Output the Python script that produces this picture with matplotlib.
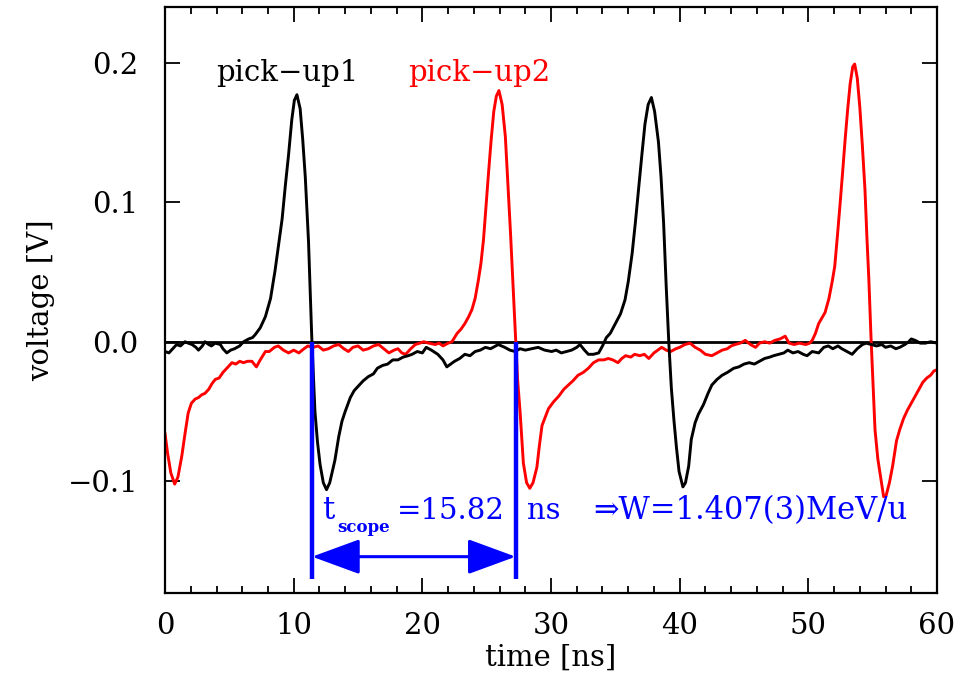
import matplotlib
matplotlib.use('Agg')
import matplotlib.pyplot as plt

plt.rcParams['font.family'] = ['DejaVu Serif', 'DejaVu Sans']
plt.rcParams['mathtext.fontset'] = 'dejavuserif'

# pick-up 1 (black)
t_pu1 = [0.0, 0.3, 0.5, 0.9, 1.2, 1.55, 1.8, 2.1, 2.4, 2.6,
         2.9, 3.1, 3.4, 3.6, 3.9, 4.3, 4.5, 4.8, 5.1, 5.4,
         5.8, 6.1, 6.5, 6.8, 7.0, 7.4, 7.8, 8.2, 8.55, 8.8,
         9.1, 9.35, 9.6, 9.85, 10.05, 10.25, 10.5, 10.7, 10.9, 11.15,
         11.4, 11.65, 11.85, 12.05, 12.3, 12.55, 12.8, 13.0, 13.2, 13.5,
         13.75, 14.0, 14.4, 14.7, 15.0, 15.4, 15.8, 16.2, 16.5, 16.9,
         17.3, 17.7, 18.1, 18.5, 18.9, 19.2, 19.6, 20.0, 20.3, 20.7,
         21.2, 21.6, 21.9, 22.2, 22.5, 22.9, 23.3, 23.7, 24.1, 24.5,
         24.9, 25.3, 25.9, 26.4, 26.8, 27.2, 27.6, 28.0, 28.5, 29.0,
         29.5, 30.05, 30.4, 30.8, 31.2, 31.6, 32.0, 32.25, 32.6, 32.9,
         33.3, 33.7, 34.0, 34.3, 34.6, 35.0, 35.4, 35.75, 36.0, 36.3,
         36.55, 36.8, 37.05, 37.3, 37.55, 37.8, 38.05, 38.35, 38.55, 38.75,
         38.95, 39.15, 39.35, 39.55, 39.75, 39.95, 40.25, 40.45, 40.7, 40.9,
         41.2, 41.45, 41.85, 42.2, 42.5, 42.9, 43.3, 43.7, 44.2, 44.6,
         45.0, 45.4, 45.8, 46.2, 46.6, 47.0, 47.3, 47.7, 48.1, 48.4,
         48.8, 49.2, 49.6, 49.9, 50.3, 50.8, 51.2, 51.55, 51.9, 52.3,
         52.6, 53.0, 53.4, 53.8, 54.2, 54.5, 54.9, 55.3, 55.7, 56.0,
         56.4, 56.8, 57.1, 57.5, 57.8, 58.0, 58.3, 58.7, 59.1, 59.5,
         60.0]
v_pu1 = [-0.007, -0.008, -0.006, -0.002, -0.003, 0.000, -0.001, -0.002, -0.004, -0.006,
         -0.003, 0.000, -0.002, -0.003, -0.001, -0.002, -0.005, -0.008, -0.006, -0.005,
         -0.003, 0.000, 0.002, 0.003, 0.005, 0.010, 0.018, 0.031, 0.051, 0.068,
         0.088, 0.112, 0.134, 0.159, 0.173, 0.177, 0.167, 0.145, 0.118, 0.072,
         0.004, -0.050, -0.072, -0.088, -0.101, -0.106, -0.101, -0.093, -0.085, -0.068,
         -0.057, -0.050, -0.040, -0.035, -0.032, -0.028, -0.025, -0.023, -0.019, -0.017,
         -0.016, -0.013, -0.013, -0.011, -0.010, -0.009, -0.007, -0.008, -0.004, -0.006,
         -0.009, -0.013, -0.018, -0.016, -0.014, -0.012, -0.009, -0.010, -0.007, -0.006,
         -0.004, -0.005, -0.002, -0.004, -0.006, -0.007, -0.005, -0.006, -0.005, -0.004,
         -0.006, -0.007, -0.006, -0.008, -0.007, -0.006, -0.004, -0.002, -0.006, -0.009,
         -0.009, -0.008, -0.003, 0.003, 0.006, 0.013, 0.020, 0.030, 0.043, 0.063,
         0.085, 0.109, 0.133, 0.156, 0.170, 0.175, 0.165, 0.143, 0.118, 0.085,
         0.040, 0.000, -0.033, -0.056, -0.076, -0.093, -0.104, -0.101, -0.089, -0.070,
         -0.058, -0.052, -0.045, -0.037, -0.031, -0.027, -0.024, -0.022, -0.019, -0.018,
         -0.016, -0.015, -0.016, -0.014, -0.012, -0.011, -0.010, -0.009, -0.008, -0.006,
         -0.008, -0.007, -0.009, -0.010, -0.007, -0.008, -0.004, -0.003, -0.005, -0.003,
         -0.005, -0.007, -0.009, -0.005, -0.002, -0.001, -0.002, -0.003, -0.002, -0.004,
         -0.003, -0.005, -0.004, -0.002, 0.000, 0.002, 0.001, -0.001, -0.001, 0.000,
         -0.001]

# pick-up 2 (red)
t_pu2 = [0.0, 0.2, 0.45, 0.75, 1.0, 1.3, 1.55, 1.8, 2.05, 2.35,
         2.6, 2.85, 3.1, 3.4, 3.65, 3.9, 4.2, 4.5, 4.8, 5.2,
         5.5, 5.8, 6.1, 6.4, 6.75, 7.1, 7.4, 7.8, 8.1, 8.5,
         8.8, 9.2, 9.6, 10.0, 10.4, 10.8, 11.1, 11.5, 11.9, 12.3,
         12.7, 13.1, 13.5, 13.9, 14.25, 14.6, 15.0, 15.4, 15.8, 16.2,
         16.6, 17.0, 17.4, 17.8, 18.1, 18.4, 18.7, 19.1, 19.45, 19.8,
         20.1, 20.5, 21.0, 21.3, 21.6, 22.0, 22.3, 22.7, 23.0, 23.3,
         23.6, 23.85, 24.1, 24.35, 24.55, 24.75, 24.95, 25.15, 25.35, 25.55,
         25.75, 25.95, 26.2, 26.45, 26.65, 26.85, 27.05, 27.25, 27.4, 27.6,
         27.85, 28.1, 28.35, 28.6, 28.9, 29.1, 29.3, 29.55, 29.8, 30.2,
         30.6, 31.0, 31.35, 31.7, 32.1, 32.5, 32.9, 33.3, 33.7, 34.1,
         34.45, 34.8, 35.2, 35.5, 35.8, 36.2, 36.5, 36.9, 37.25, 37.6,
         38.0, 38.3, 38.6, 38.95, 39.3, 39.7, 40.0, 40.4, 40.8, 41.2,
         41.6, 42.0, 42.5, 42.9, 43.3, 43.7, 44.0, 44.3, 44.7, 45.1,
         45.5, 45.9, 46.2, 46.6, 47.0, 47.4, 47.8, 48.2, 48.5, 48.9,
         49.3, 49.8, 50.1, 50.3, 50.55, 50.8, 51.05, 51.3, 51.6, 51.85,
         52.05, 52.25, 52.45, 52.65, 52.85, 53.05, 53.25, 53.45, 53.6, 53.8,
         54.0, 54.2, 54.4, 54.55, 54.7, 54.87, 55.0, 55.18, 55.4, 55.6,
         55.85, 56.05, 56.3, 56.55, 56.85, 57.1, 57.4, 57.7, 58.0, 58.3,
         58.6, 58.9, 59.2, 59.5, 59.75, 60.0]
v_pu2 = [-0.066, -0.080, -0.094, -0.102, -0.097, -0.082, -0.066, -0.051, -0.044, -0.041,
         -0.040, -0.038, -0.037, -0.034, -0.030, -0.027, -0.026, -0.022, -0.019, -0.015,
         -0.016, -0.014, -0.015, -0.014, -0.014, -0.018, -0.013, -0.007, -0.007, -0.004,
         -0.003, -0.006, -0.008, -0.006, -0.008, -0.005, -0.003, -0.004, -0.003, -0.006,
         -0.005, -0.003, -0.002, -0.005, -0.007, -0.004, -0.003, -0.006, -0.005, -0.003,
         -0.002, -0.005, -0.008, -0.006, -0.005, -0.008, -0.009, -0.005, -0.002, -0.001,
         0.000, -0.001, -0.002, -0.001, -0.003, -0.001, 0.000, 0.006, 0.009, 0.013,
         0.018, 0.023, 0.031, 0.044, 0.056, 0.073, 0.098, 0.122, 0.145, 0.165,
         0.176, 0.180, 0.170, 0.147, 0.113, 0.078, 0.040, 0.001, -0.027, -0.051,
         -0.087, -0.101, -0.105, -0.101, -0.090, -0.074, -0.060, -0.054, -0.048, -0.043,
         -0.039, -0.034, -0.031, -0.028, -0.024, -0.022, -0.019, -0.015, -0.013, -0.013,
         -0.012, -0.013, -0.015, -0.012, -0.010, -0.011, -0.009, -0.010, -0.009, -0.012,
         -0.008, -0.006, -0.004, -0.006, -0.007, -0.005, -0.004, -0.002, -0.001, -0.004,
         -0.006, -0.009, -0.010, -0.008, -0.006, -0.005, -0.003, -0.002, -0.001, 0.001,
         -0.002, -0.004, -0.001, 0.000, -0.001, 0.001, 0.002, 0.004, -0.001, -0.002,
         -0.001, -0.002, -0.001, 0.001, 0.006, 0.013, 0.017, 0.021, 0.031, 0.043,
         0.054, 0.075, 0.097, 0.120, 0.144, 0.166, 0.185, 0.197, 0.199, 0.189,
         0.168, 0.140, 0.109, 0.075, 0.045, 0.003, -0.025, -0.063, -0.084, -0.096,
         -0.111, -0.110, -0.101, -0.089, -0.071, -0.063, -0.055, -0.049, -0.044, -0.039,
         -0.034, -0.029, -0.026, -0.024, -0.021, -0.020]

# zero crossings used for the time-of-flight marker
t_cross = [11.43, 27.25]

fig = plt.figure(figsize=(9.68, 6.8), dpi=100)
ax = fig.add_axes([0.1705, 0.128, 0.7975, 0.862])

ax.axhline(0.0, color='black', lw=2.0, zorder=1)
ax.plot(t_pu2, v_pu2, color='red', lw=2.1, zorder=2)
ax.plot(t_pu1, v_pu1, color='black', lw=2.1, zorder=3)

ax.vlines(t_cross, -0.170, 0.0, color='blue', lw=3.2, zorder=4)
ax.annotate('', xy=(t_cross[0], -0.154), xytext=(t_cross[1], -0.154),
            arrowprops=dict(arrowstyle='<|-|>,head_length=1.5,head_width=0.55',
                            color='blue', lw=2.2, mutation_scale=20,
                            shrinkA=0, shrinkB=0), zorder=5)

ax.text(4.0, 0.187, 'pick\u2212up1', color='black', fontsize=21, va='baseline')
ax.text(18.9, 0.187, 'pick\u2212up2', color='red', fontsize=21, va='baseline')

ax.text(12.2, -0.127, 't', color='blue', fontsize=22, va='baseline')
ax.text(13.4, -0.136, 'scope', color='blue', fontsize=12, fontweight='bold', va='baseline')
ax.text(18.0, -0.127, '=15.82', color='blue', fontsize=21, va='baseline')
ax.text(28.1, -0.127, 'ns', color='blue', fontsize=21, va='baseline')
ax.text(33.3, -0.127, '\u21d2W=1.407(3)MeV/u', color='blue', fontsize=22, va='baseline')

ax.set_xlim(0, 60)
ax.set_ylim(-0.18, 0.24)
ax.set_xticks([0, 10, 20, 30, 40, 50, 60])
ax.set_xticks(range(0, 61, 2), minor=True)
ax.set_yticks([-0.1, 0.0, 0.1, 0.2])
ax.set_yticklabels(['\u22120.1', '0.0', '0.1', '0.2'])

ax.tick_params(which='both', direction='in', top=True, right=True, width=1.3, labelsize=21)
ax.tick_params(which='major', length=11)
ax.tick_params(which='minor', length=5)
ax.tick_params(axis='x', pad=14)
ax.tick_params(axis='y', pad=19)
for s in ax.spines.values():
    s.set_linewidth(1.6)

ax.set_xlabel('time [ns]', fontsize=21)
ax.set_ylabel('voltage [V]', fontsize=21)
ax.xaxis.set_label_coords(0.5, -0.086)
ax.yaxis.set_label_coords(-0.142, 0.5)

fig.savefig('out.png', dpi=100)
